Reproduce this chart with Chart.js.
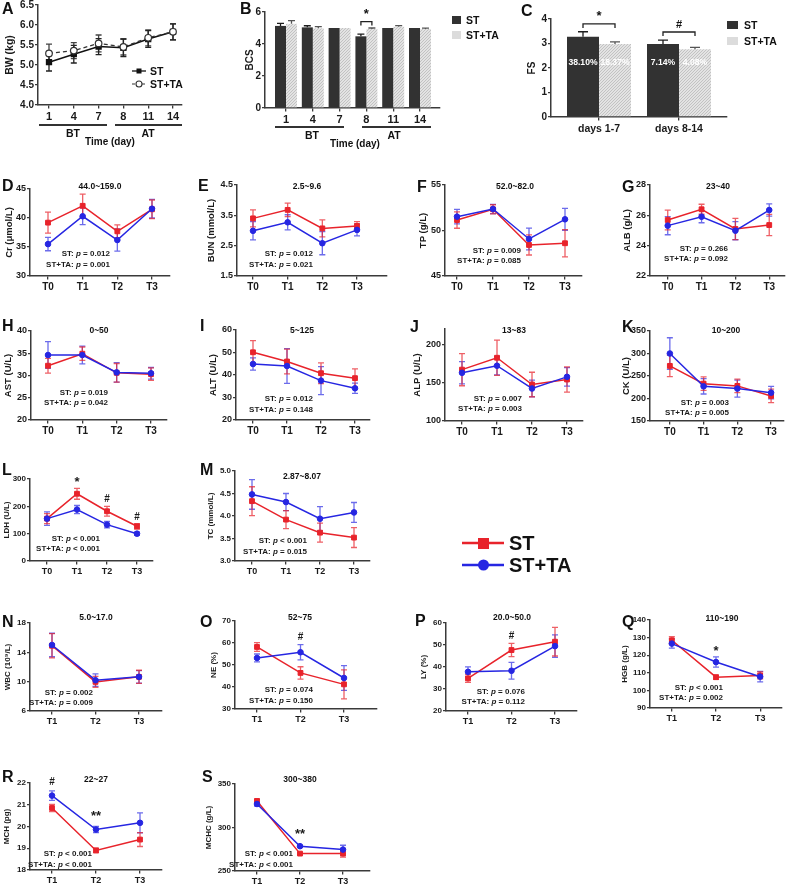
<!DOCTYPE html>
<html><head><meta charset="utf-8">
<script src="https://cdn.jsdelivr.net/npm/chart.js@4.4.1/dist/chart.umd.min.js"></script>
<style>
html,body{margin:0;padding:0;background:#fff;}
#wrap{position:relative;width:790px;height:885px;overflow:hidden;background:#fff;}
#wrap canvas{position:absolute;}
#ov{position:absolute;left:0;top:0;pointer-events:none;}
</style></head>
<body><div id="wrap"></div>
<script>
// ================= DATA =================
const dayLabels = ['1','4','7','8','11','14'];
const bwTicks = [4.0,4.5,5.0,5.5,6.0,6.5];
const bwST = [5.07,5.27,5.46,5.43,5.65,5.83];
const bwSTerr = [0.22,0.22,0.20,0.22,0.21,0.20];
const bwTA = [5.29,5.36,5.54,5.45,5.68,5.83];
const bwTAerr = [0.23,0.20,0.21,0.20,0.20,0.20];

const bcsTicks = [0,2,4,6];
const bcsST = [5.13,5.04,5.00,4.48,5.00,5.00];
const bcsSTerr = [0.16,0.10,0,0.14,0,0];
const bcsTA = [5.26,4.98,5.00,4.94,5.08,4.94];
const bcsTAerr = [0.20,0.10,0,0.06,0.07,0.05];

const fsLabels = ['days 1-7','days 8-14'];
const fsTicks = [0,1,2,3,4];
const fsST = [3.28,2.98];
const fsSTerr = [0.20,0.16];
const fsTA = [2.98,2.77];
const fsTAerr = [0.09,0.07];
const fsPctST = ['38.10%','7.14%'];
const fsPctTA = ['18.37%','4.08%'];

const T4 = ['T0','T1','T2','T3'];
const T3 = ['T1','T2','T3'];

const crTicks = [30,35,40,45];
const crST = [39.2,42.1,37.7,41.5];   const crSTerr = [1.8,2.0,1.1,1.6];
const crTA = [35.5,40.3,36.2,41.6];   const crTAerr = [1.15,1.45,1.9,1.6];

const bunTicks = [1.5,2.5,3.5,4.5];
const bunST = [3.40,3.68,3.07,3.15]; const bunSTerr = [0.28,0.22,0.28,0.14];
const bunTA = [2.99,3.27,2.58,3.02]; const bunTAerr = [0.30,0.25,0.38,0.20];

const tpTicks = [45,50,55];
const tpST = [51.15,52.33,48.41,48.6]; const tpSTerr = [0.9,0.5,1.1,1.5];
const tpTA = [51.52,52.36,49.07,51.23]; const tpTAerr = [0.8,0.5,1.2,1.2];

const albTicks = [22,24,26,28];
const albST = [25.69,26.40,25.10,25.36]; const albSTerr = [0.65,0.33,0.7,0.7];
const albTA = [25.32,25.91,24.99,26.35]; const albTAerr = [0.6,0.4,0.6,0.4];

const astTicks = [20,25,30,35,40];
const astST = [32.2,34.9,30.6,30.3]; const astSTerr = [1.65,1.5,2.1,1.4];
const astTA = [34.6,34.6,30.7,30.5]; const astTAerr = [3.0,2.0,2.2,1.3];

const altTicks = [20,30,40,50,60];
const altST = [50.1,46.0,40.8,38.6]; const altSTerr = [5.2,5.5,4.6,4.1];
const altTA = [44.9,44.0,37.5,34.1]; const altTAerr = [2.7,7.7,6.2,2.3];

const alpTicks = [100,150,200];
const alpST = [167,182.5,147.6,154.1]; const alpSTerr = [21,23,16,16.5];
const alpTA = [162.9,172.1,142.4,157.6]; const alpTAerr = [14.5,12,11,12];

const ckTicks = [150,200,250,300,350];
const ckST = [272.5,233,228,205.7]; const ckSTerr = [24,15,15,15];
const ckTA = [300,227,222,213];     const ckTAerr = [35,17,19,14];

const ldhTicks = [0,100,200,300];
const ldhST = [155,246,182,127]; const ldhSTerr = [18,20,18,10];
const ldhTA = [155,188,133,100]; const ldhTAerr = [25,15,12,6];

const tcTicks = [3.0,3.5,4.0,4.5,5.0];
const tcST = [4.33,3.92,3.63,3.52]; const tcSTerr = [0.32,0.20,0.21,0.22];
const tcTA = [4.48,4.31,3.94,4.08]; const tcTAerr = [0.33,0.19,0.27,0.22];

const wbcTicks = [6,10,14,18];
const wbcST = [14.9,9.97,10.66]; const wbcSTerr = [1.65,0.75,0.9];
const wbcTA = [15.0,10.2,10.66]; const wbcTAerr = [1.6,0.85,0.85];

const neTicks = [30,40,50,60,70];
const neST = [58.2,46.4,41.2]; const neSTerr = [2.0,2.8,6.6];
const neTA = [53.2,55.8,44.1]; const neTAerr = [1.8,3.5,5.6];

const lyTicks = [20,30,40,50,60];
const lyST = [34.8,47.7,51.5]; const lySTerr = [1.8,3.0,6.5];
const lyTA = [37.8,38.3,49.5]; const lyTAerr = [2.3,3.8,5.1];

const hgbTicks = [90,100,110,120,130,140];
const hgbST = [128.5,107.5,108.5]; const hgbSTerr = [2,1.2,2];
const hgbTA = [126.6,116.1,107.8]; const hgbTAerr = [2.6,2.9,3];

const mchTicks = [18,19,20,21,22];
const mchST = [20.85,18.9,19.4];  const mchSTerr = [0.17,0.1,0.32];
const mchTA = [21.42,19.86,20.17]; const mchTAerr = [0.22,0.14,0.46];

const mchcTicks = [250,300,350];
const mchcST = [330.5,270,270];   const mchcSTerr = [2,1,4];
const mchcTA = [327,278.5,274.6]; const mchcTAerr = [2.5,1,5];

const pValues = {
  D:['0.012','0.001'], E:['0.012','0.021'], F:['0.009','0.085'], G:['0.266','0.092'],
  H:['0.019','0.042'], I:['0.012','0.148'], J:['0.007','0.003'], K:['0.003','0.005'],
  L:['< 0.001','< 0.001'], M:['< 0.001','0.015'], N:['0.002','0.009'], O:['0.074','0.150'],
  P:['0.076','0.112'], Q:['< 0.001','0.002'], R:['< 0.001','< 0.001'], S:['< 0.001','< 0.001']
};
const refRanges = {D:'44.0~159.0',E:'2.5~9.6',F:'52.0~82.0',G:'23~40',H:'0~50',I:'5~125',J:'13~83',K:'10~200',
  M:'2.87~8.07',N:'5.0~17.0',O:'52~75',P:'20.0~50.0',Q:'110~190',R:'22~27',S:'300~380'};

// ================= STYLE / HELPERS =================
const FONT = "'Liberation Sans', Arial, Helvetica, sans-serif";
const RED = '#e8232b', BLUE = '#2626e2';
const RED_E = 'rgba(232,35,43,0.72)', BLUE_E = 'rgba(38,38,226,0.68)';
const AX = '#3a3a3a', TXT = '#1a1a1a';
Chart.defaults.font.family = FONT;
Chart.defaults.color = TXT;
const wrap = document.getElementById('wrap');

const errPlugin = {
  id:'errbars',
  beforeDatasetsDraw(chart){ drawErr(chart,false); },
  afterDatasetsDraw(chart){ drawErr(chart,true); }
};
function drawErr(chart, after){
  const ctx = chart.ctx, ys = chart.scales.y;
  chart.data.datasets.forEach((ds, di) => {
    if (!ds.err || !!ds.errAfter !== after) return;
    const meta = chart.getDatasetMeta(di);
    const cap = ds.errCap || 3;
    ctx.save();
    ctx.strokeStyle = ds.errColor; ctx.lineWidth = ds.errWidth || 1.3;
    meta.data.forEach((el, i) => {
      const v = ds.data[i].y, e = ds.err[i];
      if (!e) return;
      const x = el.x;
      const yt = ys.getPixelForValue(v + e);
      const yb = ds.errUp ? ys.getPixelForValue(v) : ys.getPixelForValue(v - e);
      ctx.beginPath();
      ctx.moveTo(x, yt); ctx.lineTo(x, yb);
      ctx.moveTo(x - cap, yt); ctx.lineTo(x + cap, yt);
      if (!ds.errUp){ ctx.moveTo(x - cap, yb); ctx.lineTo(x + cap, yb); }
      ctx.stroke();
    });
    ctx.restore();
  });
}
const marksPlugin = {
  id:'marks',
  afterDatasetsDraw(chart, args, opts){
    const items = opts.items || [];
    const ctx = chart.ctx;
    ctx.save();
    ctx.fillStyle = TXT; ctx.textAlign = 'center'; ctx.textBaseline = 'middle';
    items.forEach(it => {
      ctx.font = 'bold ' + (it.s || 11) + 'px ' + FONT;
      ctx.fillText(it.t, chart.scales.x.getPixelForValue(it.i), chart.scales.y.getPixelForValue(it.v));
    });
    ctx.restore();
  }
};
const bracketPlugin = {
  id:'brackets',
  afterDatasetsDraw(chart, args, opts){
    const items = opts.items || [];
    const ctx = chart.ctx;
    const m0 = chart.getDatasetMeta(0), m1 = chart.getDatasetMeta(1);
    ctx.save();
    items.forEach(it => {
      const x0 = m0.data[it.i].x, x1 = m1.data[it.i].x;
      const y = chart.scales.y.getPixelForValue(it.v);
      ctx.strokeStyle = '#222'; ctx.lineWidth = 1.3;
      ctx.beginPath(); ctx.moveTo(x0, y + 4); ctx.lineTo(x0, y); ctx.lineTo(x1, y); ctx.lineTo(x1, y + 4); ctx.stroke();
      ctx.fillStyle = '#111'; ctx.textAlign = 'center'; ctx.textBaseline = 'bottom';
      ctx.font = 'bold ' + (it.s || 12) + 'px ' + FONT;
      ctx.fillText(it.t, (x0 + x1) / 2, y - (it.gap || 1));
    });
    ctx.restore();
  }
};
const innerPlugin = {
  id:'innerText',
  afterDatasetsDraw(chart, args, opts){
    if (opts.v == null) return;
    const ctx = chart.ctx;
    ctx.save();
    ctx.fillStyle = '#fff'; ctx.textAlign = 'center'; ctx.textBaseline = 'middle';
    ctx.font = 'bold 8.6px ' + FONT;
    chart.data.datasets.forEach((ds, di) => {
      if (!ds.inner) return;
      chart.getDatasetMeta(di).data.forEach((el, i) => {
        ctx.fillText(ds.inner[i], el.x, chart.scales.y.getPixelForValue(opts.v));
      });
    });
    ctx.restore();
  }
};

function makeCanvas(p){
  const lh = p.tfs * 1.2;
  const left = Math.round(p.tc - lh / 2);
  const yW = p.ax - left;
  const padTop = p.padTop != null ? p.padTop : 12;
  const padRight = p.padRight != null ? p.padRight : 8;
  const xH = p.xH || 20;
  const top = Math.round(p.top - padTop);
  const realPadTop = p.top - top;
  const plotH = Math.round(p.bot - p.top);
  const w = yW + (p.xe - p.ax) + padRight;
  const h = Math.round(realPadTop) + plotH + xH;
  const c = document.createElement('canvas');
  c.width = w; c.height = h;
  c.style.left = left + 'px'; c.style.top = top + 'px';
  c.style.width = w + 'px'; c.style.height = h + 'px';
  wrap.appendChild(c);
  return {c, yW, xH, padTop: Math.round(realPadTop), padRight};
}
function xRange(p){
  const n = p.labels.length;
  const s = (p.c1 - p.c0) / (n - 1);
  return {min: -(p.c0 - p.ax) / s, max: (n - 1) + (p.xe - p.c1) / s};
}
function baseOpts(g, p){
  const xr = xRange(p);
  return {
    responsive:false, maintainAspectRatio:false, animation:false, devicePixelRatio:1, events:[],
    layout:{padding:{left:0, top:g.padTop, right:g.padRight, bottom:0}},
    plugins:{legend:{display:false}, tooltip:{enabled:false},
      marks:{items:p.marks || []}, brackets:{items:p.brackets || []}, innerText:{v:p.innerV}},
    scales:{
      x:{type:'linear', offset:false, min:xr.min, max:xr.max,
        afterFit:s => { s.height = g.xH; },
        afterBuildTicks:s => { s.ticks = p.labels.map((_, i) => ({value:i})); },
        ticks:{callback:v => p.labels[Math.round(v)], autoSkip:false, maxRotation:0, minRotation:0,
          padding:p.xPad != null ? p.xPad : 2, color:TXT, font:{size:p.xfs, weight:'bold'}},
        grid:{offset:false, drawOnChartArea:false, drawTicks:true, tickLength:3.5, color:AX, lineWidth:1.3},
        border:{display:true, color:AX, width:1.5}},
      y:{type:'linear', min:p.ymin != null ? p.ymin : p.ticks[0], max:p.ymax != null ? p.ymax : p.ticks[p.ticks.length - 1],
        afterFit:s => { s.width = g.yW; },
        afterBuildTicks:s => { s.ticks = p.ticks.map(v => ({value:v})); },
        ticks:{callback:v => Number(v).toFixed(p.dec || 0), padding:1, color:TXT, font:{size:p.yfs, weight:'bold'}},
        grid:{drawOnChartArea:false, drawTicks:true, tickLength:3, color:AX, lineWidth:1.3},
        border:{display:true, color:AX, width:1.5},
        title:{display:true, text:p.ytitle, color:TXT, font:{size:p.tfs, weight:'bold'}, padding:{top:0, bottom:0}}}
    }
  };
}
const toXY = arr => arr.map((v, i) => ({x:i, y:v}));

function linePanel(p){
  const g = makeCanvas(p);
  new Chart(g.c, {
    type:'line',
    data:{datasets:[
      {label:'ST+TA', data:toXY(p.ta), err:p.taErr, errColor:BLUE_E, borderColor:BLUE, backgroundColor:BLUE,
       pointStyle:'circle', pointRadius:2.8, pointBorderWidth:1, borderWidth:1.5, tension:0, clip:false},
      {label:'ST', data:toXY(p.st), err:p.stErr, errColor:RED_E, borderColor:RED, backgroundColor:RED,
       pointStyle:'rect', pointRadius:3.4, pointBorderWidth:1, borderWidth:1.5, tension:0, clip:false}
    ]},
    options:baseOpts(g, p),
    plugins:[errPlugin, marksPlugin]
  });
}

function dotPattern(){
  const pc = document.createElement('canvas'); pc.width = 3; pc.height = 3;
  const g = pc.getContext('2d');
  g.fillStyle = '#e3e3e3'; g.fillRect(0, 0, 3, 3);
  g.fillStyle = '#c2c2c2'; g.fillRect(0, 0, 1, 1); g.fillRect(2, 1, 1, 1); g.fillRect(1, 2, 1, 1);
  return g.createPattern(pc, 'repeat');
}
function barPanel(p){
  const g = makeCanvas(p);
  new Chart(g.c, {
    type:'bar',
    data:{datasets:[
      {label:'ST', data:toXY(p.st), err:p.stErr, errUp:true, errAfter:true, errColor:'#1e1e1e', errCap:p.cap || 4,
       backgroundColor:'#323232', borderWidth:0, categoryPercentage:p.cp, barPercentage:1, inner:p.innerST},
      {label:'ST+TA', data:toXY(p.ta), err:p.taErr, errUp:true, errAfter:true, errColor:'#555', errCap:p.cap || 4,
       backgroundColor:dotPattern(), borderWidth:0, categoryPercentage:p.cp, barPercentage:1, inner:p.innerTA}
    ]},
    options:baseOpts(g, p),
    plugins:[errPlugin, bracketPlugin, innerPlugin]
  });
}
function bwPanel(p){
  const g = makeCanvas(p);
  new Chart(g.c, {
    type:'line',
    data:{datasets:[
      {label:'ST+TA', data:toXY(p.ta), err:p.taErr, errColor:'#444', borderColor:'#333', backgroundColor:'#fff',
       borderDash:[4,3], pointStyle:'circle', pointRadius:3.3, pointBorderWidth:1.2, pointBorderColor:'#333', borderWidth:1.3, tension:0, clip:false},
      {label:'ST', data:toXY(p.st), err:p.stErr, errColor:'#222', borderColor:'#111', backgroundColor:'#111',
       pointStyle:'rect', pointRadius:3.4, borderWidth:1.5, tension:0, clip:false}
    ]},
    options:baseOpts(g, p),
    plugins:[errPlugin]
  });
}

// ================= PANELS =================
const R12 = {xfs:10, yfs:9, tfs:9.5};
const R345 = {xfs:9, yfs:8, tfs:8};

bwPanel({labels:dayLabels, st:bwST, stErr:bwSTerr, ta:bwTA, taErr:bwTAerr, ticks:bwTicks, dec:1, ytitle:'BW (kg)',
  ax:38, xe:182, c0:49, c1:173, top:5, bot:105, tc:10, tfs:10.5, xfs:11, yfs:10, xPad:2});
barPanel({labels:dayLabels, st:bcsST, stErr:bcsSTerr, ta:bcsTA, taErr:bcsTAerr, ticks:bcsTicks, ytitle:'BCS',
  ax:265, xe:440, c0:286, c1:420, top:12.3, bot:108.3, tc:250, tfs:10, xfs:11, yfs:10, cp:0.82, cap:3.5,
  brackets:[{i:3, v:5.4, t:'*', s:13}]});
barPanel({labels:fsLabels, st:fsST, stErr:fsSTerr, ta:fsTA, taErr:fsTAerr, ticks:fsTicks, ytitle:'FS',
  ax:551, xe:727, c0:599, c1:679, top:19, bot:116.7, tc:532, tfs:10, xfs:10.5, yfs:10, cp:0.8, cap:5,
  innerST:fsPctST, innerTA:fsPctTA, innerV:2.2,
  brackets:[{i:0, v:3.8, t:'*', s:13}, {i:1, v:3.47, t:'#', s:11, gap:2}]});

const lines = [
  Object.assign({labels:T4, st:crST, stErr:crSTerr, ta:crTA, taErr:crTAerr, ticks:crTicks, ytitle:'Cr (\u03bcmol/L)',
    ax:30, xe:170, c0:48, c1:152, top:189.3, bot:276.7, tc:10}, R12),
  Object.assign({labels:T4, st:bunST, stErr:bunSTerr, ta:bunTA, taErr:bunTAerr, ticks:bunTicks, dec:1, ytitle:'BUN (mmol/L)',
    ax:237, xe:387, c0:253, c1:357, top:185, bot:276, tc:212}, R12),
  Object.assign({labels:T4, st:tpST, stErr:tpSTerr, ta:tpTA, taErr:tpTAerr, ticks:tpTicks, ytitle:'TP (g/L)',
    ax:445, xe:582, c0:457, c1:565, top:185, bot:276, tc:424}, R12),
  Object.assign({labels:T4, st:albST, stErr:albSTerr, ta:albTA, taErr:albTAerr, ticks:albTicks, ytitle:'ALB (g/L)',
    ax:650, xe:787, c0:668, c1:771, top:185, bot:276, tc:628, padRight:3}, R12),
  Object.assign({labels:T4, st:astST, stErr:astSTerr, ta:astTA, taErr:astTAerr, ticks:astTicks, ytitle:'AST (U/L)',
    ax:31, xe:167, c0:48, c1:151, top:330.7, bot:420, tc:9}, R12),
  Object.assign({labels:T4, st:altST, stErr:altSTerr, ta:altTA, taErr:altTAerr, ticks:altTicks, ytitle:'ALT (U/L)',
    ax:236, xe:370, c0:253, c1:355, top:330, bot:420, tc:214}, R12),
  Object.assign({labels:T4, st:alpST, stErr:alpSTerr, ta:alpTA, taErr:alpTAerr, ticks:alpTicks, ymax:220, ytitle:'ALP (U/L)',
    ax:445, xe:583, c0:462, c1:567, top:329.1, bot:420.7, tc:418}, R12),
  Object.assign({labels:T4, st:ckST, stErr:ckSTerr, ta:ckTA, taErr:ckTAerr, ticks:ckTicks, ytitle:'CK (U/L)',
    ax:650, xe:785, c0:670, c1:772, top:330.9, bot:420.7, tc:627, padRight:4}, R12),
  Object.assign({labels:T4, st:ldhST, stErr:ldhSTerr, ta:ldhTA, taErr:ldhTAerr, ticks:ldhTicks, ytitle:'LDH (U/L)',
    ax:30, xe:153, c0:47, c1:137, top:478.6, bot:560.7, tc:7,
    marks:[{i:1, v:289, t:'*', s:13}, {i:2, v:226, t:'#', s:10}, {i:3, v:161, t:'#', s:10}]}, R345),
  Object.assign({labels:T4, st:tcST, stErr:tcSTerr, ta:tcTA, taErr:tcTAerr, ticks:tcTicks, dec:1, ytitle:'TC (mmol/L)',
    ax:235, xe:370, c0:252, c1:354, top:470.9, bot:560.7, tc:211}, R345),
  Object.assign({labels:T3, st:wbcST, stErr:wbcSTerr, ta:wbcTA, taErr:wbcTAerr, ticks:wbcTicks, ytitle:'WBC (10\u2079/L)',
    ax:30, xe:162, c0:52, c1:139, top:623.1, bot:710.7, tc:8}, R345),
  Object.assign({labels:T3, st:neST, stErr:neSTerr, ta:neTA, taErr:neTAerr, ticks:neTicks, ytitle:'NE (%)',
    ax:235, xe:377, c0:257, c1:344, top:620.7, bot:708.7, tc:214,
    marks:[{i:1, v:62.7, t:'#', s:10}]}, R345),
  Object.assign({labels:T3, st:lyST, stErr:lySTerr, ta:lyTA, taErr:lyTAerr, ticks:lyTicks, ytitle:'LY (%)',
    ax:446, xe:577, c0:468, c1:555, top:623.1, bot:710.7, tc:424,
    marks:[{i:1, v:53.8, t:'#', s:10}]}, R345),
  Object.assign({labels:T3, st:hgbST, stErr:hgbSTerr, ta:hgbTA, taErr:hgbTAerr, ticks:hgbTicks, ytitle:'HGB (g/L)',
    ax:650, xe:783, c0:672, c1:761, top:619.8, bot:707.3, tc:625, padRight:4,
    marks:[{i:1, v:122.4, t:'*', s:13}]}, R345),
  Object.assign({labels:T3, st:mchST, stErr:mchSTerr, ta:mchTA, taErr:mchTAerr, ticks:mchTicks, ytitle:'MCH (pg)',
    ax:30, xe:162, c0:52, c1:140, top:783.3, bot:870.7, tc:7, xH:14,
    marks:[{i:0, v:22.03, t:'#', s:10}, {i:1, v:20.47, t:'**', s:13}]}, R345),
  Object.assign({labels:T3, st:mchcST, stErr:mchcSTerr, ta:mchcTA, taErr:mchcTAerr, ticks:mchcTicks, ytitle:'MCHC (g/L)',
    ax:235, xe:370, c0:257, c1:343, top:784, bot:870.7, tc:209, xH:14,
    marks:[{i:1, v:292, t:'**', s:13}]}, R345)
];
lines.forEach(linePanel);

// ================= TEXT OVERLAY (SVG) =================
const sv = [];
function T(x, y, s, size, o){ o = o || {};
  sv.push('<text x="'+x+'" y="'+y+'" font-size="'+size+'" font-weight="'+(o.w||'bold')+'" text-anchor="'+(o.a||'start')+'" fill="'+(o.c||'#111')+'">'+s+'</text>'); }
function L(x1,y1,x2,y2,c,w,dash){ sv.push('<line x1="'+x1+'" y1="'+y1+'" x2="'+x2+'" y2="'+y2+'" stroke="'+c+'" stroke-width="'+w+'"'+(dash?' stroke-dasharray="'+dash+'"':'')+'/>'); }

// panel letters
[['A',2,14],['B',240,14],['C',521,16],['D',2,191],['E',198,191],['F',417,192],['G',622,192],
 ['H',2,331],['I',200,331],['J',410,332],['K',622,332],['L',2,475],['M',200,475],
 ['N',2,627],['O',200,627],['P',415,626],['Q',622,627],['R',2,782],['S',202,782]]
 .forEach(a => T(a[1], a[2], a[0], 16));

// reference ranges (panel titles)
const titlePos = {D:[100,189],E:[307,189],F:[515,189],G:[718,189],H:[99,333],I:[302,333],J:[514,333],K:[726,333],
  M:[302,479],N:[96,620],O:[300,620],P:[512,620],Q:[722,621],R:[96,782],S:[300,782]};
Object.keys(titlePos).forEach(k => T(titlePos[k][0], titlePos[k][1], refRanges[k], 8.5, {a:'middle'}));

// p-value annotations
const pPos = {D:[110,253,264],E:[313,253,264],F:[521,250,260],G:[728,248,258],H:[108,392,402],I:[313,398,409],
  J:[522,398,408],K:[729,402,412],L:[100,538,548],M:[307,540,551],N:[93,692,702],O:[313,689,700],
  P:[525,691,701],Q:[723,687,697],R:[92,853,864],S:[293,853,864]};
function pStr(v){ return (v.charAt(0) === '<' ? ' ' : ' = ') + v.replace('< ', '&lt; '); }
Object.keys(pPos).forEach(k => {
  const [x, y1, y2] = pPos[k];
  sv.push('<text x="'+x+'" y="'+(y1+3)+'" font-size="8" font-weight="bold" text-anchor="end" fill="#1a1a1a">ST: <tspan font-style="italic">p</tspan>'+pStr(pValues[k][0])+'</text>');
  sv.push('<text x="'+x+'" y="'+(y2+3)+'" font-size="8" font-weight="bold" text-anchor="end" fill="#1a1a1a">ST+TA: <tspan font-style="italic">p</tspan>'+pStr(pValues[k][1])+'</text>');
});

// A: BT/AT and legend
L(39,125,107,125,'#333',2); L(115,125,182,125,'#333',2);
T(73,137,'BT',10.5,{a:'middle'}); T(148,137,'AT',10.5,{a:'middle'}); T(110,145,'Time (day)',10,{a:'middle'});
L(132,71,146,71,'#111',1.3); sv.push('<rect x="136.5" y="68.5" width="5" height="5" fill="#111"/>'); T(150,75,'ST',10.5);
L(132,84,146,84,'#333',1.2,'3,2'); sv.push('<circle cx="139" cy="84" r="3" fill="#fff" stroke="#333" stroke-width="1.1"/>'); T(150,88,'ST+TA',10.5);
// B
L(275,127,344,127,'#333',2); L(362,127,431,127,'#333',2);
T(312,139,'BT',10.5,{a:'middle'}); T(394,139,'AT',10.5,{a:'middle'}); T(355,147,'Time (day)',10,{a:'middle'});
sv.push('<rect x="452" y="16" width="9" height="8" fill="#323232"/>'); T(466,24,'ST',10.5);
sv.push('<rect x="452" y="31" width="9" height="8" fill="#dcdcdc"/>'); T(466,39,'ST+TA',10.5);
// C
sv.push('<rect x="727" y="21" width="11" height="8" fill="#323232"/>'); T(744,29,'ST',10.5);
sv.push('<rect x="727" y="37" width="11" height="8" fill="#dcdcdc"/>'); T(744,45,'ST+TA',10.5);
// big legend
L(462,543,504,543,RED,2.5); sv.push('<rect x="478" y="538" width="11" height="11" fill="'+RED+'"/>'); T(509,550,'ST',20);
L(462,565,504,565,BLUE,2.5); sv.push('<circle cx="483.5" cy="565" r="5.5" fill="'+BLUE+'"/>'); T(509,572,'ST+TA',20);

const svg = '<svg id="ov" width="790" height="885" xmlns="http://www.w3.org/2000/svg" font-family="'+FONT.replace(/'/g,'')+'">'+sv.join('')+'</svg>';
wrap.insertAdjacentHTML('beforeend', svg);
</script>
</body></html>
